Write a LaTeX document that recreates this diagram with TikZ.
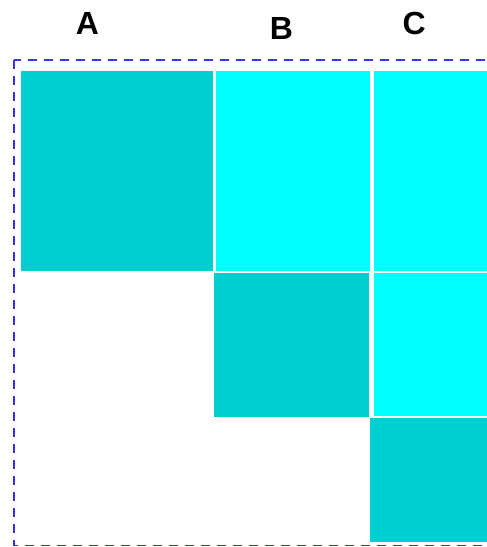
\documentclass[tikz,border=0pt]{standalone}
\usepackage{fontspec}
\setmainfont{Liberation Sans}
\definecolor{dteal}{RGB}{0,206,209}
\definecolor{lcyan}{RGB}{0,255,255}
\definecolor{dashblue}{RGB}{51,51,255}
\begin{document}
\begin{tikzpicture}[x=1pt,y=-1pt,
  lbl/.style={inner sep=0pt,font=\fontsize{32}{32}\selectfont\bfseries},
  dark/.style={fill=dteal},
  light/.style={fill=lcyan},
  frame/.style={draw=dashblue,line width=1.3pt,dash pattern=on 9pt off 7pt}]
\useasboundingbox (0,0) rectangle (487,547);
\clip (0,0) rectangle (487,547);
\node[lbl] (la) at (87.5,23.5) {A};
\node[lbl] (lb) at (281.5,28) {B};
\node[lbl] (lc) at (414.3,23.5) {C};
\draw[frame] (14,60) rectangle (500,545.5);
\fill[dark]  (21,71)   rectangle (213,271);
\fill[light] (216,71)  rectangle (370,271);
\fill[light] (374,71)  rectangle (490,271);
\fill[dark]  (214,273) rectangle (369,417);
\fill[light] (374,273) rectangle (490,416);
\fill[dark]  (370,418) rectangle (490,542);
\end{tikzpicture}
\end{document}
